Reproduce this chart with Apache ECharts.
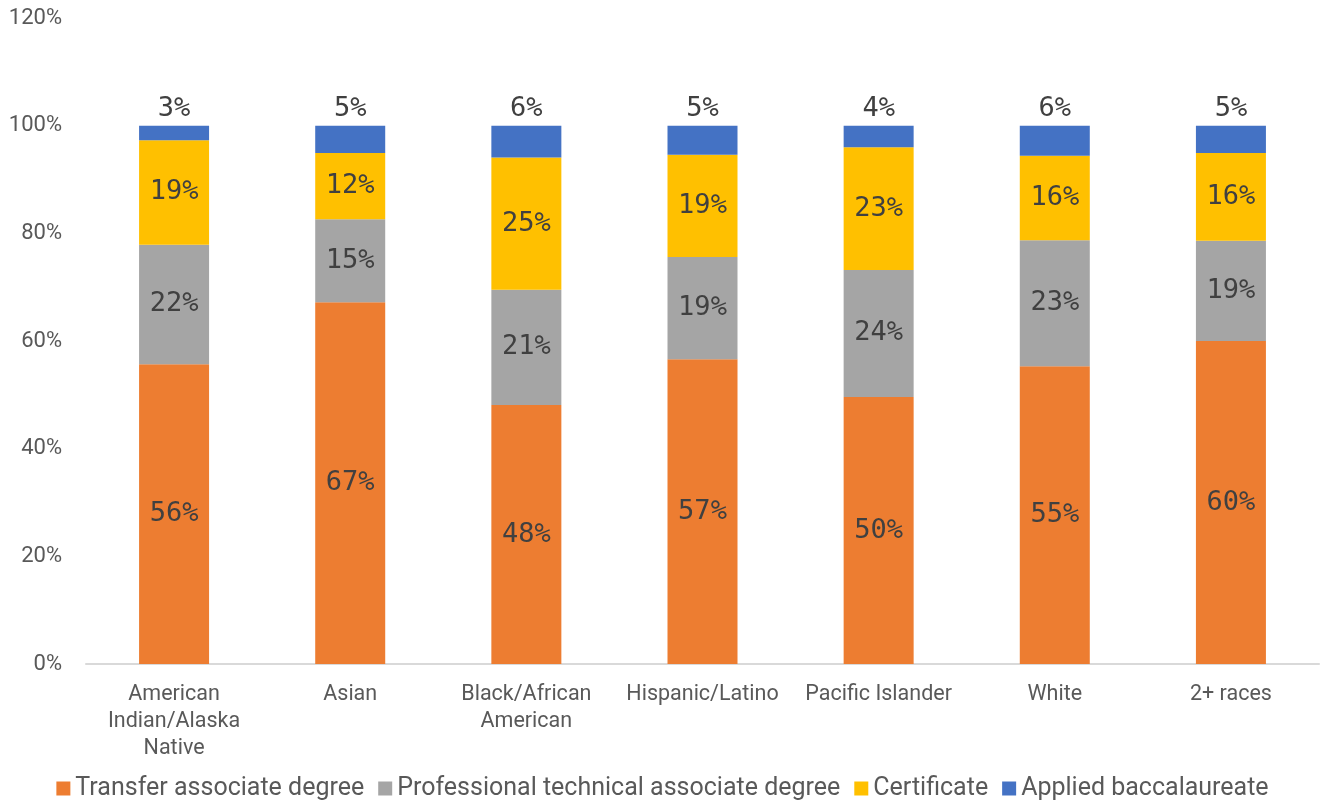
<!DOCTYPE html>
<html>
<head>
<meta charset="utf-8">
<script src="https://cdn.jsdelivr.net/npm/echarts@6/dist/echarts.min.js"></script>
<style>
  html, body { margin: 0; padding: 0; background: #fff; }
  #main { width: 1325px; height: 806px; }
</style>
</head>
<body>
<div id="main"></div>
<script>
const categories = [
  "American\nIndian/Alaska\nNative",
  "Asian",
  "Black/African\nAmerican",
  "Hispanic/Latino",
  "Pacific Islander",
  "White",
  "2+ races"
];
const transferAssociate = [55.7, 67.2, 48.1, 56.6, 49.6, 55.3, 60.0];
const profTechAssociate = [22.2, 15.4, 21.4, 19.0, 23.6, 23.4, 18.6];
const certificate = [19.4, 12.3, 24.6, 19.0, 22.8, 15.7, 16.3];
const appliedBacc = [2.7, 5.1, 5.9, 5.4, 4.0, 5.6, 5.1];
const yTicks = { min: 0, max: 120, interval: 20 };

const chart = echarts.init(document.getElementById("main"));

const labelStyle = {
  show: true,
  fontFamily: "DejaVu Sans Mono",
  fontSize: 27,
  color: "#404040",
  formatter: (p) => Math.round(p.value) + "%"
};

function barSeries(name, data, color, labelPos) {
  return {
    name: name,
    type: "bar",
    stack: "total",
    barWidth: 70,
    data: data,
    itemStyle: { color: color },
    label: Object.assign({}, labelStyle, { position: labelPos, distance: 3 })
  };
}

chart.setOption({
  animation: false,
  grid: { left: 86, right: 6, top: 18, bottom: 142 },
  legend: {
    bottom: 0,
    left: "center",
    itemWidth: 14,
    itemHeight: 14,
    itemGap: 14,
    icon: "rect",
    textStyle: { fontFamily: "Roboto", fontSize: 25, color: "#595959" },
    data: [
      "Transfer associate degree",
      "Professional technical associate degree",
      "Certificate",
      "Applied baccalaureate"
    ]
  },
  xAxis: {
    type: "category",
    data: categories,
    axisTick: { show: false },
    axisLine: { lineStyle: { color: "#d9d9d9", width: 2 } },
    axisLabel: {
      interval: 0,
      margin: 17,
      fontFamily: "Roboto",
      fontSize: 21.5,
      lineHeight: 27,
      color: "#595959"
    }
  },
  yAxis: {
    type: "value",
    min: yTicks.min,
    max: yTicks.max,
    interval: yTicks.interval,
    splitLine: { show: false },
    axisLine: { show: false },
    axisTick: { show: false },
    axisLabel: {
      formatter: "{value}%",
      margin: 24,
      fontFamily: "Roboto",
      fontSize: 22,
      color: "#595959"
    }
  },
  series: [
    barSeries("Transfer associate degree", transferAssociate, "#ED7D31", "inside"),
    barSeries("Professional technical associate degree", profTechAssociate, "#A5A5A5", "inside"),
    barSeries("Certificate", certificate, "#FFC000", "inside"),
    barSeries("Applied baccalaureate", appliedBacc, "#4472C4", "top")
  ]
});
</script>
</body>
</html>
